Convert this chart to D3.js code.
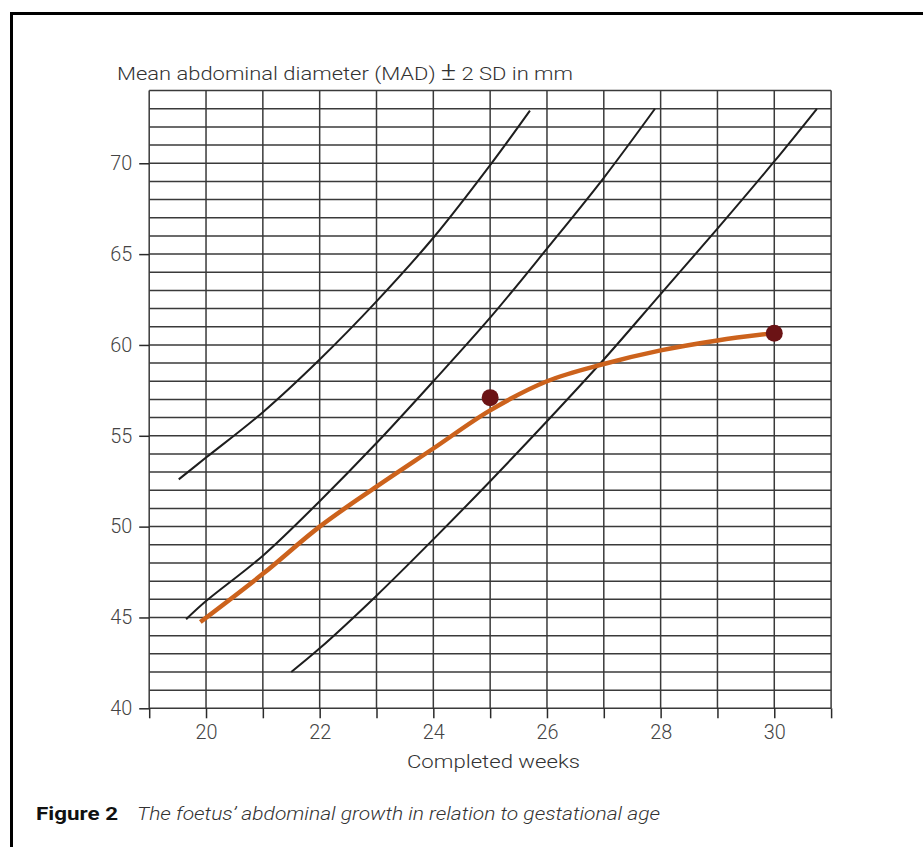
<!DOCTYPE html>
<html>
<head>
<meta charset="utf-8">
<script src="https://cdn.jsdelivr.net/npm/d3@7"></script>
<style>
  body { margin: 0; background: #fff; }
  svg { display: block; }
</style>
</head>
<body>
<svg id="chart" width="923" height="847"></svg>
<script>
const width = 923;
const height = 847;

// weeks / mm
const upperWeeks = [19.52, 20, 21, 22, 23, 24, 25, 25.7];
const upperMM    = [52.6, 53.8, 56.3, 59.2, 62.4, 65.9, 69.9, 72.9];

const meanWeeks = [19.65, 20, 21, 22, 23, 24, 25, 26, 27, 27.9];
const meanMM    = [44.9, 45.9, 48.4, 51.4, 54.6, 58.0, 61.5, 65.3, 69.2, 73.0];

const lowerWeeks = [21.5, 22, 23, 24, 25, 26, 27, 28, 29, 30, 30.75];
const lowerMM    = [42.0, 43.3, 46.2, 49.3, 52.5, 55.8, 59.2, 62.8, 66.4, 70.1, 73.0];

const foetusWeeks = [19.9, 21, 22, 23, 24, 25, 26, 27, 28, 29, 30];
const foetusMM    = [44.75, 47.4, 50.0, 52.2, 54.3, 56.4, 58.0, 58.95, 59.7, 60.25, 60.65];

const measuredWeeks = [25, 30];
const measuredMM    = [57.1, 60.65];

const xLabels = [20, 22, 24, 26, 28, 30];
const yLabels = [40, 45, 50, 55, 60, 65, 70];

const x = d3.scaleLinear().domain([19, 31]).range([149.2, 831.1]);
const y = d3.scaleLinear().domain([40, 74]).range([708.3, 90.6]);

const svg = d3.select("#chart")
  .attr("viewBox", [0, 0, width, height]);

// page frame
svg.append("rect")
  .attr("x", 11.5).attr("y", 13.5)
  .attr("width", 930).attr("height", 900)
  .attr("fill", "none")
  .attr("stroke", "#000")
  .attr("stroke-width", 3);

// grid
const grid = svg.append("g")
  .attr("stroke", "#3a3a3a")
  .attr("stroke-width", 1.5);

grid.selectAll("line.h")
  .data(d3.range(40, 75))
  .join("line")
  .attr("class", "h")
  .attr("x1", x(19)).attr("x2", x(31))
  .attr("y1", d => y(d)).attr("y2", d => y(d));

grid.selectAll("line.v")
  .data(d3.range(19, 32))
  .join("line")
  .attr("class", "v")
  .attr("x1", d => x(d)).attr("x2", d => x(d))
  .attr("y1", y(40)).attr("y2", y(74));

// axes
const xAxis = svg.append("g")
  .attr("transform", `translate(0,${y(40)})`)
  .call(d3.axisBottom(x)
    .tickValues(d3.range(19, 32))
    .tickSize(10)
    .tickSizeOuter(0)
    .tickFormat(d => xLabels.includes(d) ? d : ""));

const yAxis = svg.append("g")
  .attr("transform", `translate(${x(19)},0)`)
  .call(d3.axisLeft(y)
    .tickValues(yLabels)
    .tickSize(10)
    .tickSizeOuter(0));

[xAxis, yAxis].forEach(a => {
  a.select(".domain").remove();
  a.selectAll(".tick line").attr("stroke", "#2a2a2a").attr("stroke-width", 1.5);
  a.selectAll(".tick text")
    .attr("fill", "#444")
    .style("font", "300 19.5px Roboto, sans-serif")
    .attr("textLength", 22)
    .attr("lengthAdjust", "spacingAndGlyphs");
});
xAxis.selectAll(".tick text").attr("dy", "0.9em");
yAxis.selectAll(".tick text").attr("dx", "-0.2em");

// reference curves
const line = d3.line()
  .x(d => x(d[0]))
  .y(d => y(d[1]))
  .curve(d3.curveCatmullRom);

const refs = [
  d3.zip(upperWeeks, upperMM),
  d3.zip(meanWeeks, meanMM),
  d3.zip(lowerWeeks, lowerMM)
];

svg.append("g")
  .selectAll("path")
  .data(refs)
  .join("path")
  .attr("d", line)
  .attr("fill", "none")
  .attr("stroke", "#1e1e1e")
  .attr("stroke-width", 2);

// foetus growth
svg.append("path")
  .datum(d3.zip(foetusWeeks, foetusMM))
  .attr("d", line)
  .attr("fill", "none")
  .attr("stroke", "#cc621c")
  .attr("stroke-width", 4.5);

svg.append("g")
  .selectAll("circle")
  .data(d3.zip(measuredWeeks, measuredMM))
  .join("circle")
  .attr("cx", d => x(d[0]))
  .attr("cy", d => y(d[1]))
  .attr("r", 8.5)
  .attr("fill", "#6b1315");

// titles
const yTitle = svg.append("text")
  .attr("x", 117).attr("y", 80)
  .attr("fill", "#333")
  .attr("textLength", 456)
  .attr("lengthAdjust", "spacingAndGlyphs")
  .style("font", "300 19px Roboto, sans-serif");
yTitle.append("tspan").text("Mean abdominal diameter (MAD) ");
yTitle.append("tspan").style("font-size", "25px").text("±");
yTitle.append("tspan").text(" 2 SD in mm");

svg.append("text")
  .attr("x", 407).attr("y", 768)
  .attr("fill", "#333")
  .attr("textLength", 173)
  .attr("lengthAdjust", "spacingAndGlyphs")
  .style("font", "300 19px Roboto, sans-serif")
  .text("Completed weeks");

svg.append("text")
  .attr("x", 36).attr("y", 820)
  .attr("fill", "#111")
  .attr("textLength", 82)
  .attr("lengthAdjust", "spacingAndGlyphs")
  .style("font", "bold 19px Roboto, sans-serif")
  .text("Figure 2");

svg.append("text")
  .attr("x", 137).attr("y", 820)
  .attr("fill", "#333")
  .attr("textLength", 523)
  .attr("lengthAdjust", "spacingAndGlyphs")
  .style("font", "italic 300 18px Roboto, sans-serif")
  .text("The foetus’ abdominal growth in relation to gestational age");
</script>
</body>
</html>
